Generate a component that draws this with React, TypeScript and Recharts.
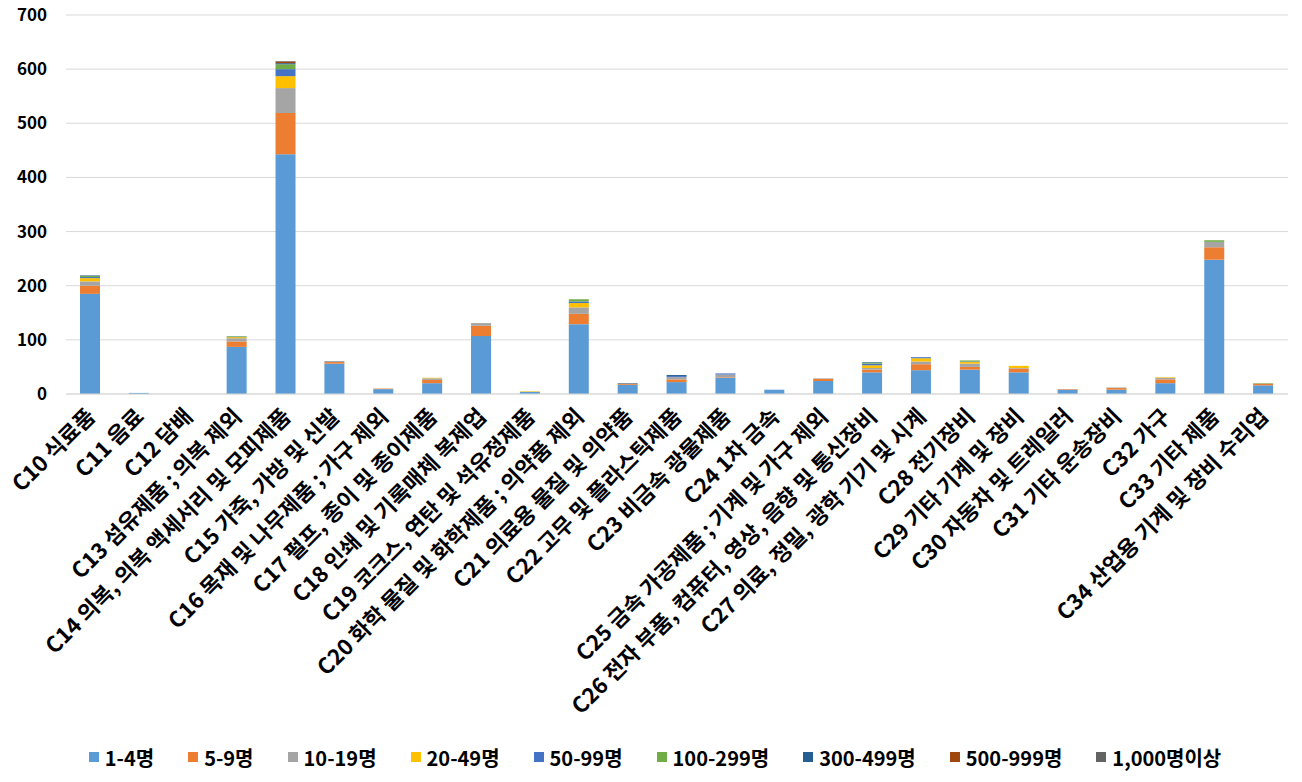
import React from "react";
import { BarChart, Bar, XAxis, YAxis, CartesianGrid, Legend } from "recharts";

const categories = [
  "C10 식료품", "C11 음료", "C12 담배", "C13 섬유제품 ; 의복 제외",
  "C14 의복, 의복 액세서리 및 모피제품", "C15 가죽, 가방 및 신발",
  "C16 목재 및 나무제품 ; 가구 제외", "C17 펄프, 종이 및 종이제품",
  "C18 인쇄 및 기록매체 복제업", "C19 코크스, 연탄 및 석유정제품",
  "C20 화학 물질 및 화학제품 ; 의약품 제외", "C21 의료용 물질 및 의약품",
  "C22 고무 및 플라스틱제품", "C23 비금속 광물제품", "C24 1차 금속",
  "C25 금속 가공제품 ; 기계 및 가구 제외", "C26 전자 부품, 컴퓨터, 영상, 음향 및 통신장비",
  "C27 의료, 정밀, 광학 기기 및 시계", "C28 전기장비", "C29 기타 기계 및 장비",
  "C30 자동차 및 트레일러", "C31 기타 운송장비", "C32 가구", "C33 기타 제품",
  "C34 산업용 기계 및 장비 수리업",
];

const s1to4 = [185, 2, 0, 87, 443, 56, 9, 20, 107, 4, 129, 17, 22, 30, 8, 24, 40, 44, 45, 40, 8, 8, 20, 248, 16];
const s5to9 = [15, 0, 0, 10, 76, 3, 1, 6, 19, 0, 19, 2, 5, 1, 0, 4, 5, 11, 5, 7, 1, 3, 7, 23, 3];
const s10to19 = [8, 0, 0, 6, 46, 2, 0, 3, 5, 0, 12, 0, 4, 5, 0, 1, 3, 5, 6, 1, 0, 1, 3, 10, 0];
const s20to49 = [6, 0, 0, 2, 22, 0, 0, 1, 0, 1, 8, 0, 0, 0, 0, 0, 5, 6, 3, 4, 0, 0, 1, 0, 0];
const s50to99 = [2, 0, 0, 1, 13, 0, 0, 0, 0, 0, 3, 0, 2, 2, 0, 0, 3, 2, 1, 0, 0, 0, 0, 0, 0];
const s100to299 = [2, 0, 0, 1, 9, 0, 0, 0, 0, 0, 4, 0, 0, 0, 0, 0, 2, 0, 2, 0, 0, 0, 0, 3, 1];
const s300to499 = [1, 0, 0, 0, 2, 0, 0, 0, 0, 0, 0, 1, 2, 0, 0, 0, 1, 0, 0, 0, 0, 0, 0, 0, 0];
const s500to999 = [0, 0, 0, 0, 3, 0, 0, 0, 0, 0, 0, 0, 0, 0, 0, 0, 0, 0, 0, 0, 0, 0, 0, 0, 0];
const s1000plus = [0, 0, 0, 0, 1, 0, 0, 0, 0, 0, 0, 0, 0, 0, 0, 0, 0, 0, 0, 0, 0, 0, 0, 0, 0];

const yTicks = [0, 100, 200, 300, 400, 500, 600, 700];

const seriesDefs = [
  { key: "a", name: "1-4명", values: s1to4, color: "#5B9BD5" },
  { key: "b", name: "5-9명", values: s5to9, color: "#ED7D31" },
  { key: "c", name: "10-19명", values: s10to19, color: "#A5A5A5" },
  { key: "d", name: "20-49명", values: s20to49, color: "#FFC000" },
  { key: "e", name: "50-99명", values: s50to99, color: "#4472C4" },
  { key: "f", name: "100-299명", values: s100to299, color: "#70AD47" },
  { key: "g", name: "300-499명", values: s300to499, color: "#255E91" },
  { key: "h", name: "500-999명", values: s500to999, color: "#9E480E" },
  { key: "i", name: "1,000명이상", values: s1000plus, color: "#636363" },
];

const data = categories.map((c, i) => {
  const row: any = { name: c };
  seriesDefs.forEach((s) => (row[s.key] = s.values[i]));
  return row;
});

const FONT = "'Noto Sans CJK KR', 'Noto Sans', sans-serif";

const XTick = (props: any) => {
  const { x, y, payload } = props;
  const tx = x + 6;
  const ty = y + 16;
  return (
    <text
      x={tx}
      y={ty}
      transform={`rotate(-45, ${tx}, ${ty})`}
      textAnchor="end"
      fontSize={22}
      fontWeight={700}
      fontFamily={FONT}
      fill="#000"
    >
      {payload.value}
    </text>
  );
};

const LegendContent = () => (
  <div
    style={{
      display: "flex",
      justifyContent: "center",
      alignItems: "center",
      height: 50,
      paddingLeft: 22,
      fontFamily: FONT,
      fontWeight: 700,
      fontSize: 20,
      color: "#000",
    }}
  >
    {seriesDefs.map((s, i) => (
      <div
        key={s.key}
        style={{ display: "flex", alignItems: "center", marginRight: i === seriesDefs.length - 1 ? 0 : 34 }}
      >
        <span style={{ width: 10, height: 10, background: s.color, display: "inline-block", marginRight: 6 }} />
        <span>{s.name}</span>
      </div>
    ))}
  </div>
);

export default function App() {
  return (
    <div style={{ position: "absolute", left: 0, top: 0, width: 1302, height: 782, background: "#fff" }}>
      <BarChart
        width={1302}
        height={782}
        data={data}
        margin={{ top: 15, right: 14, left: 0, bottom: 0 }}
        barSize={20}
      >
        <CartesianGrid vertical={false} stroke="#D9D9D9" />
        <XAxis
          dataKey="name"
          interval={0}
          height={338}
          tick={<XTick />}
          tickLine={false}
          axisLine={{ stroke: "#D9D9D9" }}
        />
        <YAxis
          width={66}
          domain={[0, 700]}
          ticks={yTicks}
          tickLine={false}
          axisLine={false}
          tickMargin={13}
          tick={{ fontSize: 17, fontWeight: 700, fill: "#000", fontFamily: FONT }}
        />
        <Legend verticalAlign="bottom" height={50} content={<LegendContent />} />
        {seriesDefs.map((s) => (
          <Bar key={s.key} dataKey={s.key} name={s.name} stackId="1" fill={s.color} isAnimationActive={false} />
        ))}
      </BarChart>
    </div>
  );
}
